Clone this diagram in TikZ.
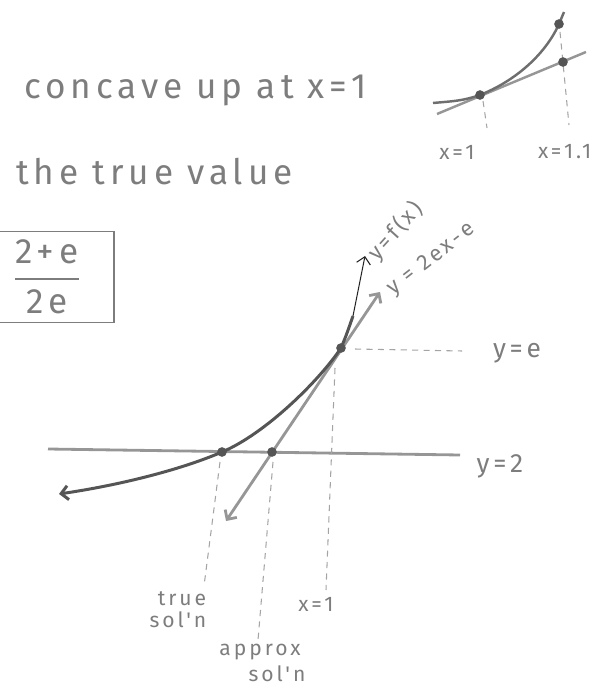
\documentclass[tikz,border=0pt]{standalone}
\usepackage{amsmath}
\usepackage{fontspec}
\setmainfont{Fira Sans}
\newfontfamily\handfont[LetterSpace=14]{Fira Sans}
\usetikzlibrary{arrows.meta,positioning}
\definecolor{pencil}{RGB}{125,125,125}
\definecolor{graphite}{RGB}{85,85,85}
\definecolor{smudge}{RGB}{150,150,150}

\begin{document}
\begin{tikzpicture}[x=0.02cm, y=-0.02cm, >={Straight Barb[length=4pt,width=8pt]},
    every node/.style={text=pencil},
    bigtext/.style={font=\handfont\fontsize{20}{24}\selectfont},
    midtext/.style={font=\handfont\fontsize{15}{18}\selectfont},
    smalltext/.style={font=\handfont\fontsize{12}{14}\selectfont, inner sep=1pt},
    tilttext/.style={font=\handfont\fontsize{12.5}{14}\selectfont, inner sep=0pt},
    dot/.style={circle, fill=graphite, draw=none, inner sep=0pt, minimum size=5.5pt},
    guide/.style={draw=pencil!70, line width=0.6pt, dash pattern=on 3.5pt off 3pt}]
    \useasboundingbox (0,0) rectangle (596,685);

    % notes
    \node[bigtext, anchor=west] (concave) at (18,90) {concave up at x=1};
    \node[bigtext, anchor=west] (truevalue) at (10,172) {the true value};
    \node[draw=pencil, line width=1.1pt, minimum width=2.68cm, minimum height=1.82cm] (answer) at (47,277)
        {\fontsize{20}{24}\selectfont$\genfrac{}{}{1.2pt}{0}{\text{\handfont 2+e}}{\text{\handfont 2e}}$};

    % small sketch
    \coordinate (ileft) at (433,103);
    \coordinate (ione) at (480,95);
    \coordinate (icurve) at (559,24);
    \coordinate (iline) at (563,62);
    \draw[smudge, line width=1.4pt] (437,114) -- (586,52);
    \draw[graphite!85, line width=1.4pt] (ileft) .. controls (455,101) and (462,101) .. (ione)
        .. controls (515,81) and (545,55) .. (icurve) -- (564,12);
    \draw[guide] (483,101) -- (487,128);
    \draw[guide] (560,32) -- (569,125);
    \node[dot] (donei) at (ione) {};
    \node[dot] (dcurve) at (icurve) {};
    \node[dot] (dline) at (iline) {};
    \node[smalltext] (xonei) at (457,152) {x=1};
    \node[smalltext, anchor=west] (xonept) at (536,152) {x=1.1};

    % main graph
    \coordinate (truesol) at (222,452);
    \coordinate (approxsol) at (272,452);
    \coordinate (touch) at (341,348);
    \coordinate (fend) at (353,316);
    \draw[smudge, line width=1.6pt] (48,449) -- (460,455);
    \draw[smudge, line width=1.6pt, <->] (226,521) -- (380,292);
    \draw[graphite, line width=1.7pt, <-] (59,494)
        .. controls (120,485) and (180,470) .. (truesol)
        .. controls (265,434) and (319,381) .. (touch)
        .. controls (346,336) .. (fend);
    \draw[black!85, line width=0.6pt, ->] (fend) -- (365,256);

    \draw[guide] (355,349) -- (462,351);
    \draw[guide] (335,368) -- (326,590);
    \draw[guide] (220,462) -- (204,586);
    \draw[guide] (273,462) -- (258,640);

    \node[dot] (dtrue) at (truesol) {};
    \node[dot] (dapprox) at (approxsol) {};
    \node[dot] (dtouch) at (touch) {};

    \node[midtext] (ylabe) at (517,353) {y=e};
    \node[midtext] (ylabtwo) at (500,466) {y=2};
    \node[tilttext, rotate=48, anchor=west] (flab) at (372,257) {y=f(x)};
    \node[tilttext, rotate=38, anchor=west] (tanlab) at (390,292) {y = 2ex-e};

    \node[smalltext] (truetxt) at (182,599) {true};
    \node[smalltext, below left=1pt and -30pt of truetxt] (truesoln) {sol'n};
    \node[smalltext] (approxtxt) at (260,652) {approx};
    \node[smalltext, below right=1pt and -32pt of approxtxt] (approxsoln) {sol'n};
    \node[smalltext] (xonetxt) at (316,604) {x=1};
\end{tikzpicture}
\end{document}
